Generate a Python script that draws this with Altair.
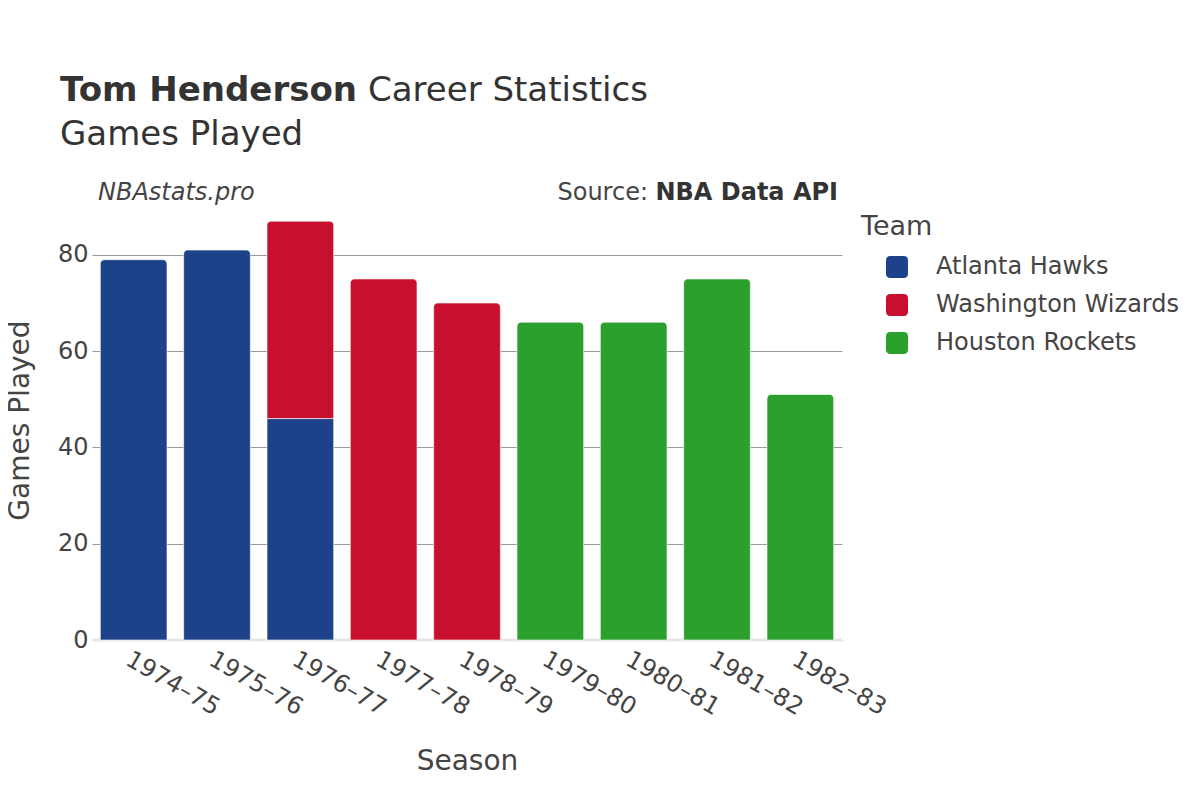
import altair as alt
import pandas as pd

seasons = ["1974–75", "1975–76", "1976–77", "1977–78", "1978–79",
           "1979–80", "1980–81", "1981–82", "1982–83"]
row_season = ["1974–75", "1975–76", "1976–77", "1976–77", "1977–78",
              "1978–79", "1979–80", "1980–81", "1981–82", "1982–83"]
row_team = ["Atlanta Hawks", "Atlanta Hawks", "Atlanta Hawks", "Washington Wizards",
            "Washington Wizards", "Washington Wizards", "Houston Rockets",
            "Houston Rockets", "Houston Rockets", "Houston Rockets"]
row_games = [79, 81, 46, 41, 75, 70, 66, 66, 75, 51]

teams = ["Atlanta Hawks", "Washington Wizards", "Houston Rockets"]
team_colors = ["#1d4289", "#c8102e", "#2ca02c"]

df = pd.DataFrame({"Season": row_season, "Team": row_team, "Games": row_games})
df["end"] = df.groupby("Season")["Games"].cumsum()
df["start"] = df["end"] - df["Games"]
df["top"] = df.groupby("Season")["end"].transform("max") == df["end"]

FONT = "DejaVu Sans"
TXT = "#444444"

x_enc = alt.X("Season:N", sort=seasons, title="Season",
              scale=alt.Scale(domain=seasons, paddingInner=0.2, paddingOuter=0.1),
              axis=alt.Axis(labelAngle=30, labelAlign="left", labelBaseline="top",
                            labelPadding=7, labelFontSize=24, labelColor=TXT,
                            titleFontSize=28, titleColor=TXT, titleFontWeight="normal",
                            titlePadding=28, domain=False, ticks=False))
y_enc = alt.Y("start:Q", title="Games Played",
              scale=alt.Scale(domain=[0, 91.4], nice=False),
              axis=alt.Axis(values=[0, 20, 40, 60, 80], labelFontSize=24, labelColor=TXT,
                            labelPadding=4, titleFontSize=28, titleColor=TXT,
                            titleFontWeight="normal", titlePadding=23,
                            domain=False, ticks=False, grid=True,
                            gridColor="#9a9a9a", gridWidth=1))
color_enc = alt.Color("Team:N", title="Team",
                      scale=alt.Scale(domain=teams, range=team_colors),
                      legend=alt.Legend(orient="none", legendX=769, legendY=14,
                                        titleFontSize=27, titleColor=TXT,
                                        titleFontWeight="normal", titlePadding=14,
                                        labelFontSize=24, labelColor=TXT, labelLimit=0,
                                        symbolType="M -0.6,-1 L 0.6,-1 Q 1,-1 1,-0.6 L 1,0.6 Q 1,1 0.6,1 L -0.6,1 Q -1,1 -1,0.6 L -1,-0.6 Q -1,-1 -0.6,-1 Z",
                                        symbolSize=484, symbolStrokeWidth=0,
                                        symbolOpacity=1, symbolOffset=24,
                                        labelOffset=27, rowPadding=14))

base = alt.Chart(df)

bars_sq = base.transform_filter("!datum.top").mark_bar(stroke="white", strokeWidth=0.6).encode(
    x=x_enc, y=y_enc, y2="end:Q", color=color_enc)
bars_top = base.transform_filter("datum.top").mark_bar(
    stroke="white", strokeWidth=0.6, cornerRadiusTopLeft=4, cornerRadiusTopRight=4).encode(
    x=x_enc, y=y_enc, y2="end:Q", color=color_enc)

zero = alt.Chart(pd.DataFrame({"z": [0]})).mark_rule(color="#e6e6e6", strokeWidth=3).encode(
    y=alt.Y("z:Q"))

one = pd.DataFrame({"a": [0]})
def label(text, x, y, size, weight="normal", style="normal", align="left", color=TXT):
    return alt.Chart(one).mark_text(text=text, font=FONT, fontSize=size, fontWeight=weight,
                                    fontStyle=style, align=align, baseline="alphabetic",
                                    color=color).encode(x=alt.value(x), y=alt.value(y))

t1 = label("Tom Henderson", -32, -99, 34, weight="bold", color="#333333")
t2 = label("Career Statistics", 276, -99, 34, color="#333333")
t3 = label("Games Played", -32, -55, 34, color="#333333")
t4 = label("NBAstats.pro", 6, 0, 24, style="italic")
t5 = label("NBA Data API", 746, 0, 24, weight="bold", align="right", color="#333333")
t6 = label("Source:", 556, 0, 24, align="right")

chart = alt.layer(zero, bars_sq, bars_top, t1, t2, t3, t4, t5, t6).properties(
    width=750, height=440,
    padding={"left": 84, "top": 192, "right": 350, "bottom": 152},
    autosize=alt.AutoSizeParams(type="none"),
    background="white",
).configure(font=FONT).configure_view(strokeWidth=0, stroke="transparent")

chart.save("out.html", embed_options={"renderer": "svg", "actions": False})
